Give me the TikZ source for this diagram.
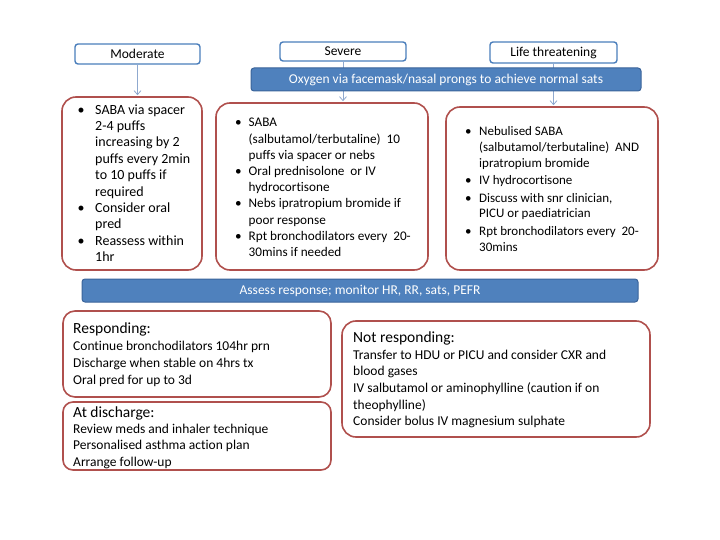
\documentclass[tikz,border=0pt]{standalone}
\usepackage{fontspec}
\setmainfont{Carlito}[Ligatures=NoCommon]
\usetikzlibrary{arrows.meta}
\definecolor{barblue}{HTML}{4F81BD}
\definecolor{barline}{HTML}{3A649A}
\definecolor{lblline}{HTML}{4A7EBB}
\definecolor{redline}{HTML}{B0504D}
\definecolor{arrowc}{HTML}{8FA9CF}
\newcommand\bl[2]{\makebox[#1][l]{\textbullet}#2}
\newcommand\ct[2]{\hspace*{#1}#2}
\begin{document}
\begin{tikzpicture}[x=1pt,y=-1pt,
  lbl/.style={draw=lblline, line width=1.4pt, fill=white, rounded corners=3pt,
    font=\fontsize{13.5}{15}\selectfont, inner sep=0pt},
  bar/.style={draw=barline, fill=barblue, line width=1pt, rounded corners=3pt,
    text=white, font=\fontsize{13.5}{15}\selectfont, inner sep=0pt},
  redbox/.style={draw=redline, line width=1.6pt, rounded corners=14pt, fill=white, inner sep=0pt},
  txt/.style={align=left, inner sep=0pt, anchor=west},
  arr/.style={draw=arrowc, line width=0.8pt, -{Straight Barb[length=4pt,width=7pt]}, shorten >=1pt}]
\useasboundingbox (0,0) rectangle (720,540);
% labels
\node[lbl, minimum width=125, minimum height=20] (modlbl) at (137.5,54) {Moderate};
\node[lbl, minimum width=126, minimum height=19] (sevlbl) at (343,51.5) {Severe};
\node[lbl, minimum width=127, minimum height=21] (lifelbl) at (553.5,52.5) {Life threatening};
% top red boxes
\node[redbox, minimum width=140, minimum height=173] (modbox) at (132,183.5) {};
\node[redbox, minimum width=212, minimum height=167] (sevbox) at (322,186.5) {};
\node[redbox, minimum width=212, minimum height=163] (lifebox) at (552,188.5) {};
% arrows (behind oxygen bar)
\draw[arr] (modlbl.south) -- (modlbl.south |- modbox.north);
\draw[arr] (sevlbl.south) -- (sevlbl.south |- sevbox.north);
\draw[arr] (lifelbl.south) -- (lifelbl.south |- lifebox.north);
\node[bar, minimum width=390, minimum height=23] (oxy) at (446,79.5) {Oxygen via facemask/nasal prongs to achieve normal sats};
% texts in top boxes
\node[txt, font=\fontsize{14}{16.4}\selectfont] (modtxt) at (77.5,183) {%
\bl{17.5pt}{SABA via spacer}\\
\ct{17.5pt}{2-4 puffs}\\
\ct{17.5pt}{increasing by 2}\\
\ct{17.5pt}{puffs every 2min}\\
\ct{17.5pt}{to 10 puffs if}\\
\ct{17.5pt}{required}\\
\bl{17.5pt}{Consider oral}\\
\ct{17.5pt}{pred}\\
\bl{17.5pt}{Reassess within}\\
\ct{17.5pt}{1hr}};
\node[txt, font=\fontsize{13.2}{16.2}\selectfont] (sevtxt) at (235,187.5) {%
\bl{13.5pt}{SABA}\\
\ct{13.5pt}{(salbutamol/terbutaline)\ \ 10}\\
\ct{13.5pt}{puffs via spacer or nebs}\\
\bl{13.5pt}{Oral prednisolone\ \ or IV}\\
\ct{13.5pt}{hydrocortisone}\\
\bl{13.5pt}{Nebs ipratropium bromide if}\\
\ct{13.5pt}{poor response}\\
\bl{13.5pt}{Rpt bronchodilators every\ \ 20-}\\
\ct{13.5pt}{30mins if needed}};
\node[txt, font=\fontsize{13}{15.6}\selectfont] (lifetxt) at (465,189) {%
\bl{14pt}{Nebulised SABA}\\
\ct{14pt}{(salbutamol/terbutaline)\ \ AND}\\
\ct{14pt}{ipratropium bromide}\\[2pt]
\bl{14pt}{IV hydrocortisone}\\[2pt]
\bl{14pt}{Discuss with snr clinician,}\\
\ct{14pt}{PICU or paediatrician}\\[2pt]
\bl{14pt}{Rpt bronchodilators every\ \ 20-}\\
\ct{14pt}{30mins}};
% assess bar
\node[bar, minimum width=556, minimum height=23] (assess) at (360,290.5) {Assess response; monitor HR, RR, sats, PEFR};
% bottom boxes
\node[redbox, rounded corners=12pt, minimum width=268, minimum height=86] (resp) at (197,354) {};
\node[redbox, rounded corners=10pt, minimum width=268, minimum height=68] (disc) at (197,436) {};
\node[redbox, rounded corners=14pt, minimum width=308, minimum height=116] (notr) at (496,379) {};
\node[txt, font=\fontsize{13.5}{17}\selectfont] (resptxt) at (73,355) {%
{\fontsize{15.5}{17}\selectfont Responding:}\\
Continue bronchodilators 104hr prn\\
Discharge when stable on 4hrs tx\\
Oral pred for up to 3d};
\node[txt, font=\fontsize{13.5}{16.3}\selectfont] (disctxt) at (73,437.5) {%
{\fontsize{15.5}{17}\selectfont At discharge:}\\
Review meds and inhaler technique\\
Personalised asthma action plan\\
Arrange follow-up};
\node[txt, font=\fontsize{13.5}{16.6}\selectfont] (notrtxt) at (353,380) {%
{\fontsize{15.5}{18}\selectfont Not responding:}\\
Transfer to HDU or PICU and consider CXR and\\
blood gases\\
IV salbutamol or aminophylline (caution if on\\
theophylline)\\
Consider bolus IV magnesium sulphate};
\end{tikzpicture}
\end{document}
